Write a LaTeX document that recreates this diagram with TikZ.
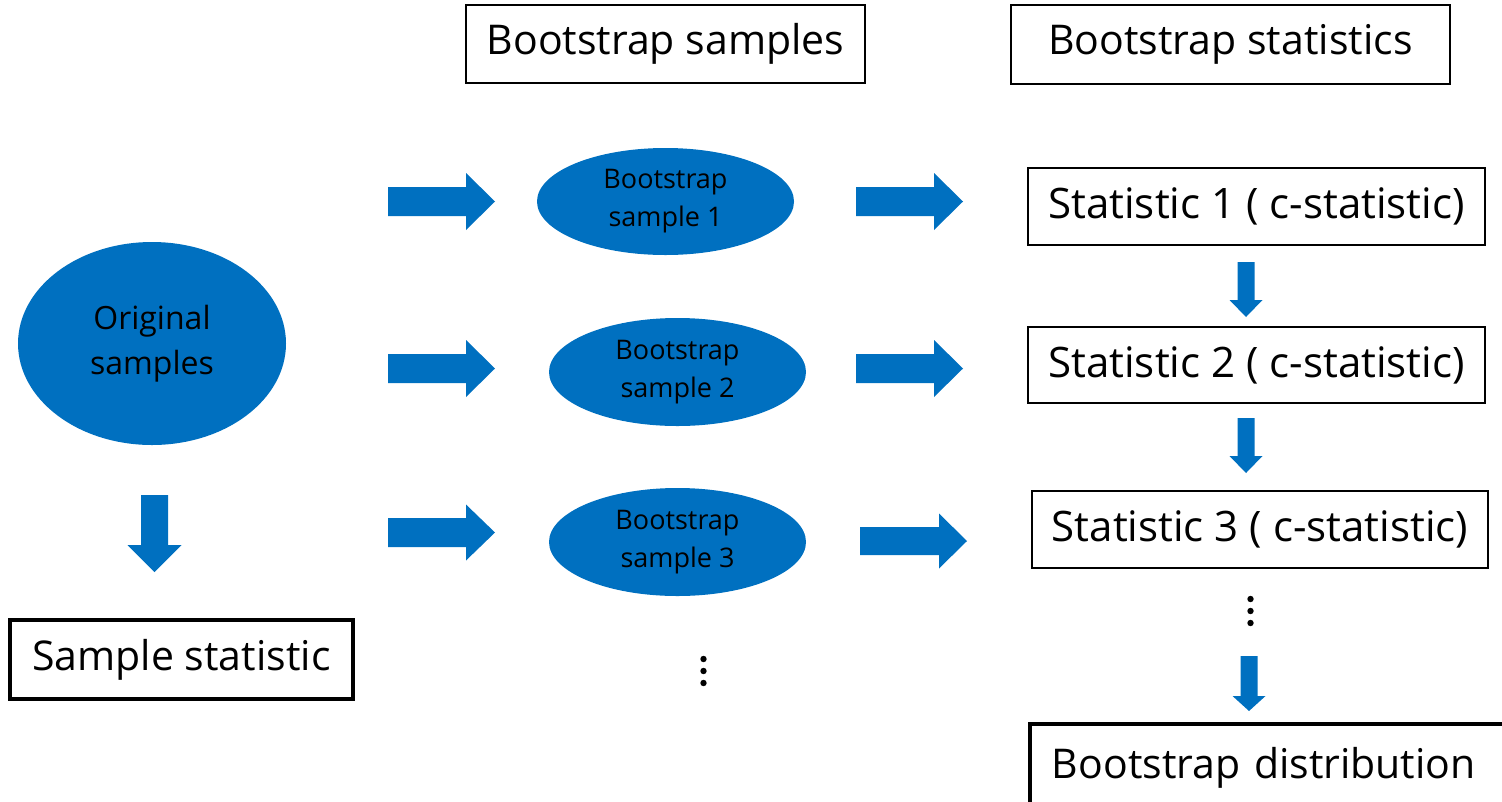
\documentclass[tikz,border=0pt]{standalone}
\usepackage{fontspec}
\setmainfont{Open Sans}
\usetikzlibrary{shapes.geometric}
\definecolor{msblue}{HTML}{0070C0}
\tikzset{
  bigtext/.style={font=\fontsize{41}{48}\selectfont},
  stattext/.style={font=\fontsize{42}{48}\selectfont},
  titlebox/.style={draw=black, line width=1.8pt, inner sep=0pt, bigtext},
  thickbox/.style={draw=black, line width=3.8pt, inner sep=0pt, bigtext},
  blob/.style={ellipse, fill=msblue, inner sep=0pt, align=center, text=black,
    execute at begin node={\rule{0pt}{1.35em}}},
  blockarrow/.style={fill=msblue},
  dotmark/.style={fill=black}
}
% right-pointing block arrow: x0, y centre, length, shaft half, head half, head length
\newcommand\rblockarrow[6]{\fill[blockarrow] (#1,#2) ++(0,-#4) -- ++(#3-#6,0) -- ++(0,#4-#5) -- ++(#6,#5) -- ++(-#6,#5) -- ++(0,#4-#5) -- ++(-#3+#6,0) -- cycle;}
% down-pointing block arrow: x centre, y0, length, shaft half, head half, head length
\newcommand\dblockarrow[6]{\fill[blockarrow] (#1,#2) ++(-#4,0) -- ++(0,#3-#6) -- ++(#4-#5,0) -- ++(#5,#6) -- ++(#5,-#6) -- ++(#4-#5,0) -- ++(0,-#3+#6) -- cycle;}
\begin{document}
\begin{tikzpicture}[x=1pt,y=-1pt]
\useasboundingbox (0,0) rectangle (1502,801);
% header boxes
\node[titlebox, minimum width=399, minimum height=78] (bsamp) at (665.5,44) {Bootstrap samples};
\node[titlebox, minimum width=439, minimum height=79] (bstat) at (1230.5,44.5) {Bootstrap statistics};
% ellipses
\node[blob, minimum width=268, minimum height=203, font=\fontsize{32}{45}\selectfont] (orig) at (152,343.5) {Original\\samples};
\node[blob, minimum width=257, minimum height=107, font=\fontsize{27}{38}\selectfont] (b1) at (665.5,201.5) {Bootstrap\\sample 1};
\node[blob, minimum width=257, minimum height=108, font=\fontsize{27}{38}\selectfont] (b2) at (677.5,372) {Bootstrap\\sample 2};
\node[blob, minimum width=257, minimum height=108, font=\fontsize{27}{38}\selectfont] (b3) at (677.5,542) {Bootstrap\\sample 3};
% statistic boxes
\node[titlebox, stattext, minimum width=457, minimum height=77] (s1) at (1256.5,206.5) {Statistic 1 ( c-statistic)};
\node[titlebox, stattext, minimum width=457, minimum height=76] (s2) at (1256.5,365) {Statistic 2 ( c-statistic)};
\node[titlebox, stattext, minimum width=456, minimum height=77] (s3) at (1260,529.5) {Statistic 3 ( c-statistic)};
\node[thickbox, minimum width=343, minimum height=79] (sstat) at (181.5,659.5) {Sample statistic};
\node[thickbox, anchor=north west, inner xsep=22pt, minimum height=88, text width=490, align=left] (bdist) at (1028,722) {Bootstrap distribution};
% block arrows, column 1
\rblockarrow{388}{201.5}{107}{14.5}{28.5}{29}
\rblockarrow{388}{368.5}{107}{14.5}{28.5}{29}
\rblockarrow{388}{532.5}{107}{14.5}{28}{29}
% block arrows, column 2
\rblockarrow{856}{201.5}{107}{14.5}{28.5}{29}
\rblockarrow{856}{368.5}{107}{14.5}{28.5}{29}
\rblockarrow{860}{541}{107}{14}{27.5}{28}
% down arrows
\dblockarrow{154.5}{495}{77}{13.5}{27}{27}
\dblockarrow{1246}{262}{55}{8.5}{16.5}{17}
\dblockarrow{1246}{418}{55}{8.5}{16.5}{17}
\dblockarrow{1249}{656}{55}{8.5}{16.5}{15}
% vertical ellipsis dots
\foreach \yy in {659,671,683} \fill[dotmark] (703.5,\yy) circle (3.2);
\foreach \yy in {599,611,623} \fill[dotmark] (1250.5,\yy) circle (3.2);
\end{tikzpicture}
\end{document}
